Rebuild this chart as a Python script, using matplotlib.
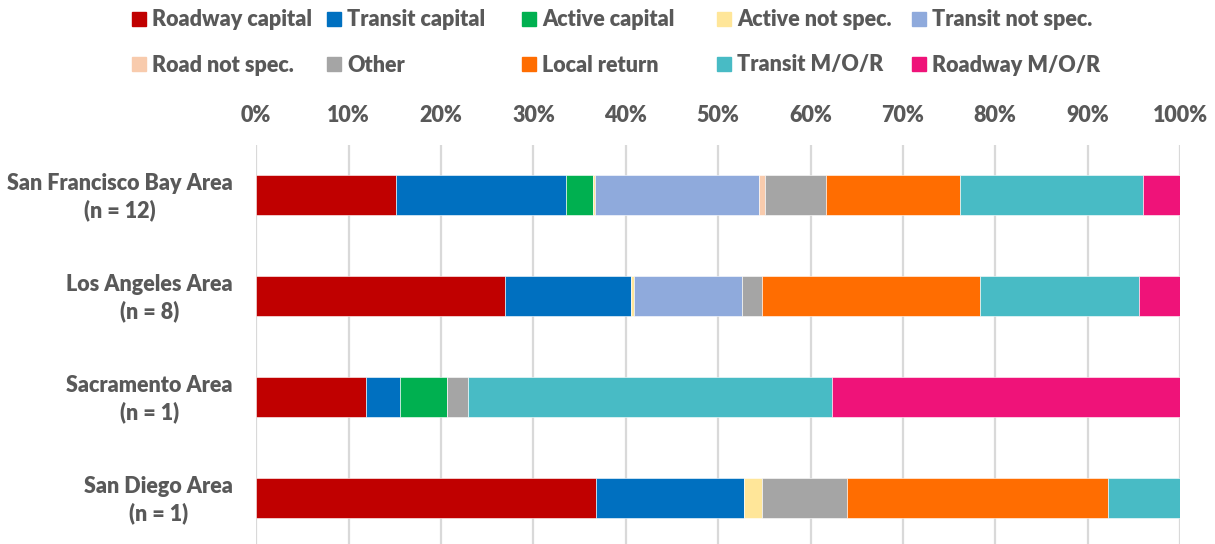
import matplotlib.pyplot as plt
from matplotlib.patches import Rectangle
from matplotlib.ticker import PercentFormatter
from matplotlib.transforms import ScaledTranslation

# ============================================================
# DATA (share of spending, %)
# ============================================================

regions = [
    "San Francisco Bay Area\n(n = 12)",
    "Los Angeles Area\n(n = 8)",
    "Sacramento Area\n(n = 1)",
    "San Diego Area\n(n = 1)",
]

categories = [
    "Roadway capital", "Transit capital", "Active capital",
    "Active not spec.", "Transit not spec.", "Road not spec.",
    "Other", "Local return", "Transit M/O/R", "Roadway M/O/R",
]

roadway_capital = [15.1, 26.9, 11.9, 36.8]
transit_capital = [18.4, 13.7, 3.7, 16.0]
active_capital = [3.0, 0.0, 5.0, 0.0]
active_not_spec = [0.2, 0.3, 0.0, 2.0]
transit_not_spec = [17.7, 11.7, 0.0, 0.0]
road_not_spec = [0.7, 0.0, 0.0, 0.0]
other = [6.6, 2.1, 2.3, 9.2]
local_return = [14.5, 23.7, 0.0, 28.2]
transit_mor = [19.8, 17.2, 39.4, 7.8]
roadway_mor = [4.0, 4.4, 37.7, 0.0]

series = [
    roadway_capital, transit_capital, active_capital, active_not_spec,
    transit_not_spec, road_not_spec, other, local_return, transit_mor,
    roadway_mor,
]

colors = [
    "#C00000", "#0070C0", "#00B050", "#FFE699", "#8FAADC",
    "#F8CBAD", "#A5A5A5", "#FF6D01", "#48BBC5", "#EF1379",
]

TEXT = "#595959"
FS = 15.5
plt.rcParams["font.family"] = ["Lato", "DejaVu Sans"]
plt.rcParams["font.weight"] = "heavy"

# ============================================================
# FIGURE
# ============================================================

W, H = 1215, 544
fig = plt.figure(figsize=(W / 100, H / 100), dpi=100)

x0, x1 = 256.3, 1180.0
ytop, ybot = 144.5, 548.5
ax = fig.add_axes([x0 / W, 1 - ybot / H, (x1 - x0) / W, (ybot - ytop) / H])

ypos = list(range(len(regions)))
left = [0.0] * len(regions)
for vals, col in zip(series, colors):
    ax.barh(ypos, vals, left=left, height=0.4, color=col,
            edgecolor="white", linewidth=0.4, zorder=3)
    left = [l + v for l, v in zip(left, vals)]

ax.set_xlim(0, 100)
ax.set_ylim(3.5, -0.5)
ax.xaxis.set_major_formatter(PercentFormatter(decimals=0))
ax.set_xticks(range(0, 101, 10))
ax.xaxis.tick_top()
ax.tick_params(axis="x", length=0, pad=13, labelsize=FS, labelcolor=TEXT)
ax.set_yticks(ypos)
ax.set_yticklabels(regions, linespacing=1.35)
ax.tick_params(axis="y", length=0, pad=17, labelsize=FS, labelcolor=TEXT)
nudge = ScaledTranslation(0, 3 / 100, fig.dpi_scale_trans)
for lbl in ax.get_yticklabels():
    lbl.set_multialignment("center")
    lbl.set_transform(lbl.get_transform() + nudge)

ax.grid(axis="x", color="#D9D9D9", linewidth=1.6, zorder=0)
for s in ax.spines.values():
    s.set_visible(False)

# ============================================================
# LEGEND (two rows, fixed column width like the original)
# ============================================================

col_x = [132, 327, 522, 717, 912]
row_y = [19, 64]
box = 14
for i, (name, col) in enumerate(zip(categories, colors)):
    r, c = divmod(i, 5)
    px, py = col_x[c], row_y[r]
    fig.patches.append(Rectangle((px / W, 1 - (py + box / 2) / H),
                                 box / W, box / H, color=col,
                                 transform=fig.transFigure))
    fig.text((px + 20) / W, 1 - (py + 1) / H, name, ha="left", va="center",
             fontsize=FS, color=TEXT)

fig.savefig("out.png", dpi=100)
